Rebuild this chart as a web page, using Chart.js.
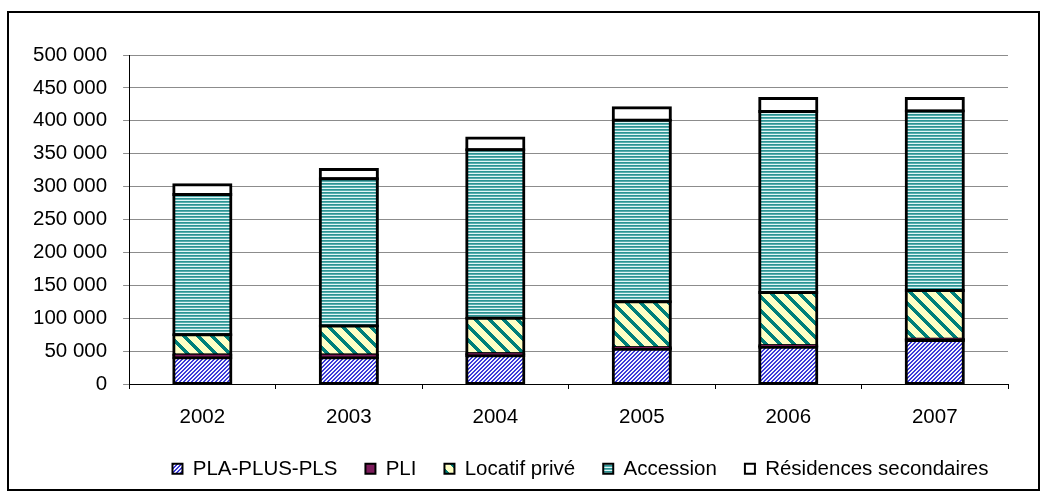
<!DOCTYPE html>
<html>
<head>
<meta charset="utf-8">
<script src="https://cdn.jsdelivr.net/npm/chart.js@4/dist/chart.umd.min.js"></script>
<style>
  html, body { margin: 0; padding: 0; background: #fff; }
  #wrap { position: relative; width: 1044px; height: 493px; }
  #cadre { position: absolute; left: 7px; top: 11px; width: 1029px; height: 476px; border: 2px solid #000; pointer-events: none; }
</style>
</head>
<body>
<div id="wrap">
  <canvas id="myChart" width="1044" height="493"></canvas>
  <div id="cadre"></div>
</div>
<script>
// Logements commencés par type de financement
const annees = ['2002', '2003', '2004', '2005', '2006', '2007'];
const plaPlusPls = [40000, 40000, 43000, 53000, 56000, 66000];
const pli = [4000, 4000, 3000, 2000, 2000, 2000];
const locatifPrive = [31000, 44000, 54000, 70000, 81000, 74000];
const accession = [213000, 224000, 256000, 276000, 275000, 273000];
const residencesSec = [15000, 14000, 18000, 19000, 20000, 19000];

const POLICE = '"Liberation Sans", Arial, sans-serif';

// motifs de remplissage facon Excel
function motif(taille, pixel) {
  const c = document.createElement('canvas');
  c.width = taille;
  c.height = taille;
  const g = c.getContext('2d');
  for (let y = 0; y < taille; y++) {
    for (let x = 0; x < taille; x++) {
      g.fillStyle = pixel(x, y);
      g.fillRect(x, y, 1, 1);
    }
  }
  return g.createPattern(c, 'repeat');
}

const ctx = document.getElementById('myChart').getContext('2d');

const hachureBleue = motif(4, (x, y) => ((x + y) % 4 < 2 ? '#3a3ad8' : '#f4f4ff'));
const rayureJaune = motif(14, (x, y) => (((x - y) % 14 + 14) % 14 < 5 ? '#00807a' : '#ffffc4'));
const lignesTurquoise = motif(3, (x, y) => ['#2b9494', '#58adad', '#e2f6f6'][y]);

function fmt(v) {
  return String(v).replace(/\B(?=(\d{3})+(?!\d))/g, ' ');
}

const serie = (label, data, fond) => ({
  label: label,
  data: data,
  backgroundColor: fond,
  borderColor: '#000',
  borderWidth: 3,
  inflateAmount: 1.5,
  borderSkipped: false,
  categoryPercentage: 1,
  barPercentage: 0.39
});

// recale la legende (a droite, un peu plus haut) sans la couper
const decaleLegende = {
  id: 'decaleLegende',
  afterLayout(chart) {
    const lg = chart.legend;
    lg.left += 68;
    lg.right += 68;
    lg.top -= 15;
    lg.bottom = chart.height;
  }
};

const chart = new Chart(ctx, {
  type: 'bar',
  data: {
    labels: annees,
    datasets: [
      serie('PLA-PLUS-PLS', plaPlusPls, hachureBleue),
      serie('PLI', pli, '#7d1c5c'),
      serie('Locatif privé', locatifPrive, rayureJaune),
      serie('Accession', accession, lignesTurquoise),
      serie('Résidences secondaires', residencesSec, '#ffffff')
    ]
  },
  options: {
    responsive: false,
    animation: false,
    layout: { padding: { left: 17, right: 36, top: 55, bottom: 7.4 } },
    font: { family: POLICE, size: 20.5 },
    plugins: {
      tooltip: { enabled: false },
      legend: {
        position: 'bottom',
        maxHeight: 40,
        labels: {
          color: '#000',
          font: { family: POLICE, size: 20.5 },
          boxWidth: 10,
          boxHeight: 10,
          padding: 28,
          generateLabels(chart) {
            return Chart.defaults.plugins.legend.labels.generateLabels(chart)
              .map(l => Object.assign(l, { lineWidth: 2 }));
          }
        }
      }
    },
    scales: {
      x: {
        stacked: true,
        grid: { offset: true, drawOnChartArea: false, drawTicks: true, tickLength: 5, color: '#000' },
        border: { color: '#000', width: 1 },
        ticks: { color: '#000', padding: 16, font: { family: POLICE, size: 20.5 } }
      },
      y: {
        stacked: true,
        min: 0,
        max: 500000,
        grid: { color: '#8c8c8c', tickLength: 6 },
        border: { color: '#000', width: 1 },
        ticks: {
          stepSize: 50000,
          color: '#000',
          padding: 16,
          font: { family: POLICE, size: 20.5 },
          callback: v => fmt(v)
        }
      }
    }
  },
  plugins: [decaleLegende]
});
</script>
</body>
</html>
